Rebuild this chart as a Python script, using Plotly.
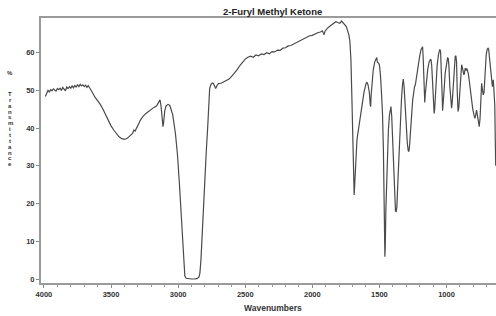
import plotly.graph_objects as go

# ---- data ----
wavenumber = [
    3990, 3980, 3970, 3960, 3950, 3940, 3930, 3920, 3910, 3900, 3890, 3880, 3870, 3860, 3850,
    3840, 3830, 3820, 3810, 3800, 3790, 3780, 3770, 3760, 3750, 3740, 3730, 3720, 3710, 3700,
    3690, 3680, 3670, 3660, 3650, 3640, 3620, 3600, 3580, 3560, 3540, 3520, 3500, 3480, 3460,
    3440, 3420, 3400, 3380, 3360, 3340, 3330, 3320, 3310, 3300, 3290, 3280, 3270, 3260, 3240,
    3220, 3200, 3180, 3160, 3150, 3140, 3135, 3128, 3120, 3113, 3108, 3100, 3090, 3075, 3062,
    3050, 3040, 3020, 3005, 2990, 2975, 2965, 2958, 2950, 2940, 2920, 2900, 2880, 2860, 2845,
    2838, 2830, 2820, 2810, 2800, 2790, 2780, 2772, 2765, 2755, 2745, 2738, 2730, 2720, 2710,
    2700, 2680, 2660, 2640, 2620, 2600, 2580, 2560, 2540, 2520, 2500, 2480, 2460, 2440, 2420,
    2400, 2380, 2360, 2340, 2320, 2300, 2280, 2260, 2240, 2220, 2200, 2180, 2160, 2140, 2120,
    2100, 2080, 2060, 2040, 2020, 2000, 1980, 1960, 1940, 1925, 1918, 1912, 1905, 1890, 1870,
    1850, 1840, 1825, 1810, 1795, 1782, 1772, 1760, 1748, 1738, 1728, 1720, 1712, 1705, 1698,
    1692, 1688, 1684, 1678, 1672, 1668, 1665, 1655, 1645, 1630, 1615, 1600, 1593, 1585, 1575,
    1568, 1565, 1562, 1555, 1546, 1535, 1525, 1520, 1515, 1508, 1500, 1492, 1484, 1477, 1470,
    1465, 1461, 1459, 1456, 1452, 1446, 1440, 1433, 1425, 1418, 1414, 1408, 1400, 1392, 1386,
    1380, 1375, 1370, 1362, 1355, 1345, 1335, 1328, 1322, 1316, 1308, 1300, 1292, 1285, 1280,
    1275, 1268, 1260, 1252, 1248, 1244, 1238, 1232, 1222, 1212, 1200, 1190, 1182, 1178, 1174,
    1170, 1166, 1162, 1158, 1150, 1140, 1130, 1120, 1115, 1110, 1102, 1096, 1092, 1088, 1080,
    1070, 1060, 1050, 1044, 1038, 1032, 1029, 1025, 1018, 1010, 1000, 992, 987, 982, 975,
    968, 962, 958, 950, 942, 935, 930, 925, 920, 914, 908, 903, 897, 892, 887,
    880, 874, 870, 866, 860, 853, 848, 843, 838, 830, 822, 812, 804, 795, 788,
    782, 776, 770, 762, 756, 750, 745, 740, 738, 733, 726, 720, 712, 704, 696,
    690, 686, 680, 672, 665, 658, 651, 645, 640, 636, 633,
]
transmittance = [
    48.4, 49.5, 50.0, 49.6, 50.2, 49.9, 50.4, 50.1, 49.8, 50.5, 50.2, 50.6, 50.0, 50.8, 50.4,
    49.9, 50.9, 50.5, 51.0, 50.6, 51.2, 50.7, 51.3, 50.9, 51.5, 51.0, 51.6, 51.2, 51.5, 51.0,
    51.4, 50.8, 51.3, 50.6, 49.8, 49.5, 48.2, 47.3, 46.3, 45.0, 43.4, 42.0, 40.6, 39.5, 38.5,
    37.7, 37.2, 37.0, 37.3, 38.0, 38.6, 39.5, 39.2, 40.0, 40.6, 41.4, 42.2, 42.8, 43.2, 43.9,
    44.5, 45.0, 45.5, 45.9, 46.6, 47.2, 47.5, 46.0, 43.0, 40.4, 41.5, 44.5, 45.9, 46.3, 46.0,
    44.5, 43.5, 38.5, 33.0, 25.0, 15.0, 8.0, 3.0, 0.8, 0.2, 0.0, 0.0, 0.0, 0.1, 0.5,
    1.5, 5.0, 13.0, 22.0, 29.0, 34.0, 40.0, 46.0, 50.5, 51.6, 52.0, 51.9, 51.0, 50.5, 51.3,
    51.8, 51.9, 52.3, 52.6, 53.0, 53.8, 54.6, 55.5, 56.6, 57.6, 58.3, 58.8, 59.1, 58.8, 59.4,
    59.2, 59.7, 59.5, 60.0, 59.7, 60.3, 60.2, 60.7, 60.6, 61.2, 61.3, 61.8, 61.9, 62.3, 62.5,
    63.0, 63.3, 63.8, 64.1, 64.5, 64.6, 65.0, 65.3, 65.5, 65.8, 65.2, 64.8, 65.7, 66.4, 67.0,
    67.6, 67.8, 68.2, 68.0, 67.8, 68.4, 68.0, 67.3, 67.0, 66.0, 64.8, 63.0, 58.0, 48.0, 36.0,
    27.0, 22.3, 25.0, 31.0, 35.5, 36.4, 37.5, 40.0, 42.5, 46.0, 49.5, 51.8, 52.2, 51.5, 49.5,
    46.0, 45.7, 48.5, 52.5, 55.4, 57.5, 58.5, 58.7, 57.5, 57.3, 56.8, 54.0, 49.0, 44.0, 34.0,
    22.0, 10.0, 5.9, 9.0, 18.0, 27.0, 34.0, 39.5, 43.5, 45.5, 45.7, 43.0, 36.0, 27.0, 21.0,
    18.0, 17.9, 19.0, 26.0, 33.0, 42.0, 48.0, 51.5, 53.0, 51.0, 45.0, 40.0, 36.0, 34.0, 33.8,
    35.5, 40.0, 44.5, 47.5, 48.4, 50.1, 51.0, 51.5, 54.0, 56.8, 59.0, 60.8, 61.5, 61.6, 59.0,
    53.0, 47.8, 46.8, 49.0, 53.0, 55.5, 57.5, 58.2, 58.1, 56.5, 51.0, 46.0, 43.9, 45.0, 51.0,
    56.5, 59.5, 60.9, 60.3, 56.0, 48.5, 44.6, 46.0, 50.0, 54.5, 57.5, 58.6, 58.5, 56.5, 51.0,
    47.0, 45.3, 46.5, 52.0, 57.0, 59.0, 59.2, 57.5, 50.0, 44.4, 45.5, 49.0, 53.0, 55.5, 56.8,
    55.8, 54.4, 54.1, 54.6, 55.9, 55.3, 55.8, 55.2, 54.6, 52.5, 50.0, 47.0, 45.0, 43.5, 42.6,
    43.5, 44.8, 43.5, 41.5, 40.4, 42.5, 47.0, 51.0, 51.9, 50.5, 48.8, 49.5, 55.0, 59.5, 61.0,
    61.2, 61.0, 59.0, 56.3, 53.5, 51.0, 52.8, 50.0, 46.0, 36.0, 30.0,
]

chart_title = "2-Furyl Methyl Ketone"
x_title = "Wavenumbers"
y_title_chars = list("%Transmittance")
x_tick_vals = [4000, 3500, 3000, 2500, 2000, 1500, 1000]
y_tick_vals = [0, 10, 20, 30, 40, 50, 60]

# ---- layout geometry (pixels) ----
W, H = 496, 316
L, R, T, B = 41, 0, 18, 33
pw, ph = W - L - R, H - T - B


def paper_x(px):
    return (px - L) / pw


def paper_y(py):
    return (H - B - py) / ph


fig = go.Figure()
fig.add_trace(go.Scatter(
    x=wavenumber, y=transmittance, mode="lines",
    line=dict(color="#4a4a4a", width=1.2), hoverinfo="skip", showlegend=False,
))

tick_font = dict(family="Liberation Sans, Arial, sans-serif", size=7.5, color="#333333", weight="bold")

fig.update_xaxes(
    range=[4022, 631], tickvals=x_tick_vals, ticktext=[str(v) for v in x_tick_vals],
    ticks="outside", ticklen=3, tickwidth=1, tickcolor="#888888",
    minor=dict(dtick=100, tick0=0, ticks="outside", ticklen=2, tickcolor="#999999", tickwidth=1),
    showline=True, linecolor="#9a9a9a", linewidth=2, mirror=True,
    showgrid=False, zeroline=False, tickfont=tick_font, automargin=False,
)
fig.update_yaxes(
    range=[-1.06, 69.2], tickvals=y_tick_vals, ticktext=[str(v) for v in y_tick_vals],
    ticks="outside", ticklen=3, tickwidth=1, tickcolor="#888888",
    showline=True, linecolor="#9a9a9a", linewidth=2,
    showgrid=False, zeroline=False, tickfont=tick_font, automargin=False,
)

annotations = [
    dict(text=chart_title, x=paper_x(272), y=paper_y(11), xref="paper", yref="paper",
         xanchor="center", yanchor="middle", showarrow=False,
         font=dict(family="Liberation Sans, Arial, sans-serif", size=9.5, color="#222222", weight="bold")),
    dict(text=x_title, x=paper_x(272.5), y=paper_y(308), xref="paper", yref="paper",
         xanchor="center", yanchor="middle", showarrow=False,
         font=dict(family="Liberation Sans, Arial, sans-serif", size=8.5, color="#333333", weight="bold")),
]
letter_y = [73, 94, 100, 106, 111.7, 117, 123, 129, 135, 140.7, 146.7, 152.7, 158.3, 164.3]
for ch, py in zip(y_title_chars, letter_y):
    annotations.append(dict(
        text=ch, x=paper_x(10), y=paper_y(py), xref="paper", yref="paper",
        xanchor="center", yanchor="middle", showarrow=False,
        font=dict(family="Liberation Sans, Arial, sans-serif", size=6, color="#333333", weight="bold"),
    ))

fig.update_layout(
    width=W, height=H, margin=dict(l=L, r=R, t=T, b=B, autoexpand=False),
    plot_bgcolor="white", paper_bgcolor="white", annotations=annotations,
)

fig.write_html(
    "out.html", config=dict(displayModeBar=False),
    post_script="document.body.style.margin='0';document.body.style.padding='0';",
)
